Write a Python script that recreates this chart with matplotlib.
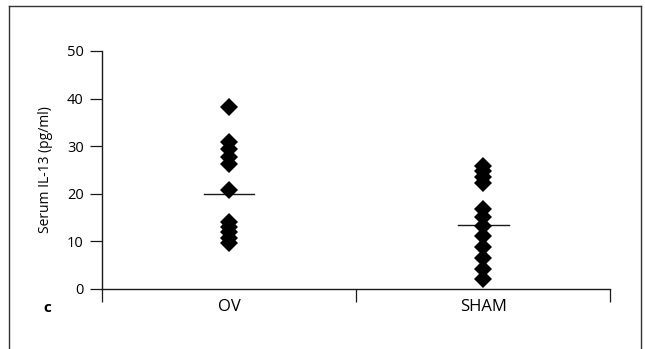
import matplotlib.pyplot as plt
from matplotlib.lines import Line2D
import numpy as np

plt.rcParams['font.family'] = ['Open Sans', 'DejaVu Sans']
plt.rcParams['font.size'] = 10

# data (pg/ml)
groups = ['OV', 'SHAM']
ov_vals = [38.2, 30.9, 29.4, 27.7, 26.3, 20.8, 14.1, 13.0, 11.9, 10.8, 9.7]
sham_vals = [25.8, 24.7, 23.5, 22.3, 16.8, 15.2, 13.2, 11.2, 8.8, 6.6, 4.2, 2.0]
group_means = [20.0, 13.4]

ink = '#1a1a1a'

fig = plt.figure(figsize=(6.45, 3.49), dpi=100)
ax = fig.add_axes([0.158, 0.172, 0.788, 0.682])

xpos = np.arange(len(groups)) + 0.5
for x, vals in zip(xpos, [ov_vals, sham_vals]):
    ax.plot(np.full(len(vals), x), vals, 'D', ms=9.6, color='black',
            markeredgewidth=0, linestyle='none', zorder=3)

for x, m in zip(xpos, group_means):
    ax.plot([x - 0.1, x + 0.1], [m, m], color=ink, lw=1.0, zorder=2)

ax.set_xlim(0, 2)
ax.set_ylim(0, 50)

for side in ['top', 'right']:
    ax.spines[side].set_visible(False)
for side in ['left', 'bottom']:
    ax.spines[side].set_color(ink)
    ax.spines[side].set_linewidth(1.0)

ax.set_yticks([0, 10, 20, 30, 40, 50])
ax.yaxis.set_tick_params(which='major', length=9, width=0.9, color=ink,
                         direction='out', pad=4, labelsize=10.5)

ax.set_xticks([0, 1, 2])
ax.set_xticklabels([])
ax.set_xticks(xpos, minor=True)
ax.set_xticklabels(groups, minor=True)
ax.xaxis.set_tick_params(which='major', length=9, width=0.9, color=ink,
                         direction='out')
ax.xaxis.set_tick_params(which='minor', length=0, pad=7, labelsize=12)

ax.set_ylabel('Serum IL-13 (pg/ml)', labelpad=10)

fig.text(0.073, 0.118, 'c', fontsize=11, fontweight='bold', ha='center', va='center')

# panel frame, open at the bottom
frame = dict(color='#333333', lw=1.0, transform=fig.transFigure)
fig.add_artist(Line2D([0.014, 0.014], [0.0, 0.983], **frame))
fig.add_artist(Line2D([0.014, 0.994], [0.983, 0.983], **frame))
fig.add_artist(Line2D([0.994, 0.994], [0.0, 0.983], **frame))

fig.savefig('out.png', dpi=100)
